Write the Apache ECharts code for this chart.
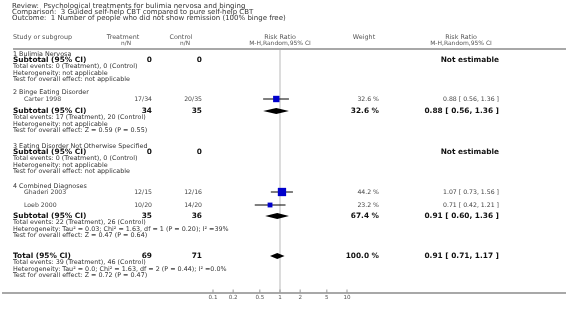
<!DOCTYPE html>
<html>
<head>
<meta charset="utf-8">
<script src="https://cdn.jsdelivr.net/npm/echarts@6/dist/echarts.min.js"></script>
<style>
  html, body { margin: 0; padding: 0; background: #fff; }
  #chart { width: 566px; height: 316px; }
</style>
</head>
<body>
<div id="chart"></div>
<script>
// header text
const titleLines = [
  "Review:  Psychological treatments for bulimia nervosa and binging",
  "Comparison:  3 Guided self-help CBT compared to pure self-help CBT",
  "Outcome:  1 Number of people who did not show remission (100% binge free)"
];

// single studies
const studyNames = ["Carter 1998", "Ghaderi 2003", "Loeb 2000"];
const studyTreat = ["17/34", "12/15", "10/20"];
const studyCtrl = ["20/35", "12/16", "14/20"];
const studyRR = [0.88, 1.07, 0.71];
const studyLo = [0.56, 0.73, 0.42];
const studyHi = [1.36, 1.56, 1.21];
const studyWeight = [32.6, 44.2, 23.2];

// subgroups
const groupNames = ["1 Bulimia Nervosa", "2 Binge Eating Disorder", "3 Eating Disorder Not Otherwise Specified", "4 Combined Diagnoses"];
const groupTreatN = [0, 34, 0, 35];
const groupCtrlN = [0, 35, 0, 36];
const groupRR = [null, 0.88, null, 0.91];
const groupLo = [null, 0.56, null, 0.60];
const groupHi = [null, 1.36, null, 1.36];
const groupWeight = [null, 32.6, null, 67.4];
const groupEvents = [
  "Total events: 0 (Treatment), 0 (Control)",
  "Total events: 17 (Treatment), 20 (Control)",
  "Total events: 0 (Treatment), 0 (Control)",
  "Total events: 22 (Treatment), 26 (Control)"
];
const groupHet = [
  "Heterogeneity: not applicable",
  "Heterogeneity: not applicable",
  "Heterogeneity: not applicable",
  "Heterogeneity: Tau\u00b2 = 0.03; Chi\u00b2 = 1.63, df = 1 (P = 0.20); I\u00b2 =39%"
];
const groupTest = [
  "Test for overall effect: not applicable",
  "Test for overall effect: Z = 0.59 (P = 0.55)",
  "Test for overall effect: not applicable",
  "Test for overall effect: Z = 0.47 (P = 0.64)"
];

// overall
const totalTreatN = 69;
const totalCtrlN = 71;
const totalRR = 0.91;
const totalLo = 0.71;
const totalHi = 1.17;
const totalWeight = 100.0;
const totalLines = [
  "Total events: 39 (Treatment), 46 (Control)",
  "Heterogeneity: Tau\u00b2 = 0.0; Chi\u00b2 = 1.63, df = 2 (P = 0.44); I\u00b2 =0.0%",
  "Test for overall effect: Z = 0.72 (P = 0.47)"
];

// axis
const tickValues = [0.1, 0.2, 0.5, 1, 2, 5, 10];
const tickLabels = ["0.1", "0.2", "0.5", "1", "2", "5", "10"];

// layout (pixel rows)
const groupHeadY = [54, 92, 146.5, 186];
const subtotalY = [60, 111, 152, 216];
const studyY = [99, 192, 205];
const totalY = 256;
const lineGap = 6.5;
const axisY = 293;

const FONT = "DejaVu Sans";
const colTreat = 152, colCtrl = 202, colWeight = 379, colCI = 499, colRef = 280;
const fsBold = 7.4, fsText = 6.4, fsStudy = 6.2, fsHead = 6.4;

const fmtCI = (r, l, h) => r.toFixed(2) + " [ " + l.toFixed(2) + ", " + h.toFixed(2) + " ]";
const fmtW = w => w.toFixed(1) + " %";

const texts = [];
function txt(x, y, s, size, bold, color, align) {
  texts.push({
    type: "text", x: x, y: y, silent: true,
    style: {
      text: s, fontFamily: FONT, fontSize: size, fontWeight: bold ? "bold" : "normal",
      fill: color, align: align || "left", verticalAlign: "middle",
      textAlign: align || "left", textVerticalAlign: "middle"
    }
  });
}

// title and column headers
titleLines.forEach((s, i) => txt(12, 6 + i * 6, s, 7, false, "#333"));
txt(13, 37, "Study or subgroup", fsHead, false, "#555");
txt(123, 37, "Treatment", fsHead, false, "#555", "center");
txt(126, 43, "n/N", 5.8, false, "#555", "center");
txt(181, 37, "Control", fsHead, false, "#555", "center");
txt(185, 43, "n/N", 5.8, false, "#555", "center");
txt(colRef, 37, "Risk Ratio", fsHead, false, "#555", "center");
txt(colRef, 43, "M-H,Random,95% CI", 6, false, "#555", "center");
txt(364, 37, "Weight", fsHead, false, "#555", "center");
txt(461, 37, "Risk Ratio", fsHead, false, "#555", "center");
txt(461, 43, "M-H,Random,95% CI", 6, false, "#555", "center");

// subgroups
groupNames.forEach((name, g) => {
  txt(13, groupHeadY[g], name, fsText, false, "#333");
  const y = subtotalY[g];
  txt(13, y, "Subtotal (95% CI)", fsBold, true, "#111");
  txt(colTreat, y, String(groupTreatN[g]), fsBold, true, "#111", "right");
  txt(colCtrl, y, String(groupCtrlN[g]), fsBold, true, "#111", "right");
  if (groupRR[g] == null) {
    txt(colCI, y, "Not estimable", fsBold, true, "#111", "right");
  } else {
    txt(colWeight, y, fmtW(groupWeight[g]), fsBold, true, "#111", "right");
    txt(colCI, y, fmtCI(groupRR[g], groupLo[g], groupHi[g]), fsBold, true, "#111", "right");
  }
  txt(13, y + lineGap, groupEvents[g], fsText, false, "#333");
  txt(13, y + 2 * lineGap, groupHet[g], fsText, false, "#333");
  txt(13, y + 3 * lineGap, groupTest[g], fsText, false, "#333");
});

// studies
studyNames.forEach((name, i) => {
  const y = studyY[i];
  txt(24, y, name, fsStudy, false, "#444");
  txt(colTreat, y, studyTreat[i], fsStudy, false, "#444", "right");
  txt(colCtrl, y, studyCtrl[i], fsStudy, false, "#444", "right");
  txt(colWeight, y, fmtW(studyWeight[i]), fsStudy, false, "#444", "right");
  txt(colCI, y, fmtCI(studyRR[i], studyLo[i], studyHi[i]), fsStudy, false, "#444", "right");
});

// total
txt(13, totalY, "Total (95% CI)", fsBold, true, "#111");
txt(colTreat, totalY, String(totalTreatN), fsBold, true, "#111", "right");
txt(colCtrl, totalY, String(totalCtrlN), fsBold, true, "#111", "right");
txt(colWeight, totalY, fmtW(totalWeight), fsBold, true, "#111", "right");
txt(colCI, totalY, fmtCI(totalRR, totalLo, totalHi), fsBold, true, "#111", "right");
totalLines.forEach((s, i) => txt(13, totalY + (i + 1) * lineGap, s, fsText, false, "#333"));

// rules
const rules = [
  { type: "line", silent: true, shape: { x1: 13, y1: 49, x2: 566, y2: 49 }, style: { stroke: "#a8a8a8", lineWidth: 2 } },
  { type: "line", silent: true, shape: { x1: 2, y1: axisY, x2: 566, y2: axisY }, style: { stroke: "#a8a8a8", lineWidth: 2 } }
];

// data for the marks
const studyData = studyRR.map((r, i) => [r, studyY[i], studyLo[i], studyHi[i], studyWeight[i]]);
const diamondData = [];
groupRR.forEach((r, g) => { if (r != null) diamondData.push([r, subtotalY[g], groupLo[g], groupHi[g]]); });
diamondData.push([totalRR, totalY, totalLo, totalHi]);

const chart = echarts.init(document.getElementById("chart"), null, { renderer: "canvas" });
chart.setOption({
  animation: false,
  backgroundColor: "#fff",
  grid: { left: 213, width: 134, top: 0, height: axisY },
  xAxis: { type: "log", logBase: 10, min: 0.1, max: 10, show: false },
  yAxis: { type: "value", min: 0, max: axisY, inverse: true, show: false },
  graphic: rules.concat(texts),
  series: [
    {
      // no-effect line at RR = 1
      type: "custom", silent: true, z: 1,
      data: [[1, 50, axisY - 1]],
      renderItem: (params, api) => {
        const a = api.coord([api.value(0), api.value(1)]);
        const b = api.coord([api.value(0), api.value(2)]);
        return { type: "line", shape: { x1: a[0], y1: a[1], x2: b[0], y2: b[1] }, style: { stroke: "#dcdcdc", lineWidth: 2 } };
      }
    },
    {
      // axis ticks and labels
      type: "custom", silent: true, z: 3,
      data: tickValues.map((v, i) => [v, axisY, i]),
      renderItem: (params, api) => {
        const p = api.coord([api.value(0), api.value(1)]);
        return {
          type: "group",
          children: [
            { type: "line", shape: { x1: p[0], y1: p[1] - 3.5, x2: p[0], y2: p[1] }, style: { stroke: "#999", lineWidth: 1 } },
            { type: "text", x: p[0], y: p[1] + 5, style: { text: tickLabels[api.value(2)], fontFamily: FONT, fontSize: 5.6, fill: "#555", align: "center", verticalAlign: "middle", textAlign: "center", textVerticalAlign: "middle" } }
          ]
        };
      }
    },
    {
      // study estimates, box size grows with weight
      type: "custom", silent: true, z: 4,
      data: studyData,
      renderItem: (params, api) => {
        const c = api.coord([api.value(0), api.value(1)]);
        const l = api.coord([api.value(2), api.value(1)]);
        const h = api.coord([api.value(3), api.value(1)]);
        const s = 1 + 0.165 * api.value(4);
        return {
          type: "group",
          children: [
            { type: "line", shape: { x1: l[0], y1: l[1], x2: h[0], y2: h[1] }, style: { stroke: "#000", lineWidth: 1 } },
            { type: "rect", shape: { x: c[0] - s / 2, y: c[1] - s / 2, width: s, height: s }, style: { fill: "#0000cc" } }
          ]
        };
      }
    },
    {
      // pooled estimates
      type: "custom", silent: true, z: 4,
      data: diamondData,
      renderItem: (params, api) => {
        const c = api.coord([api.value(0), api.value(1)]);
        const l = api.coord([api.value(2), api.value(1)]);
        const h = api.coord([api.value(3), api.value(1)]);
        const hh = 3;
        return {
          type: "polygon",
          shape: { points: [[l[0], c[1]], [c[0], c[1] - hh], [h[0], c[1]], [c[0], c[1] + hh]] },
          style: { fill: "#000" }
        };
      }
    }
  ]
});
</script>
</body>
</html>
